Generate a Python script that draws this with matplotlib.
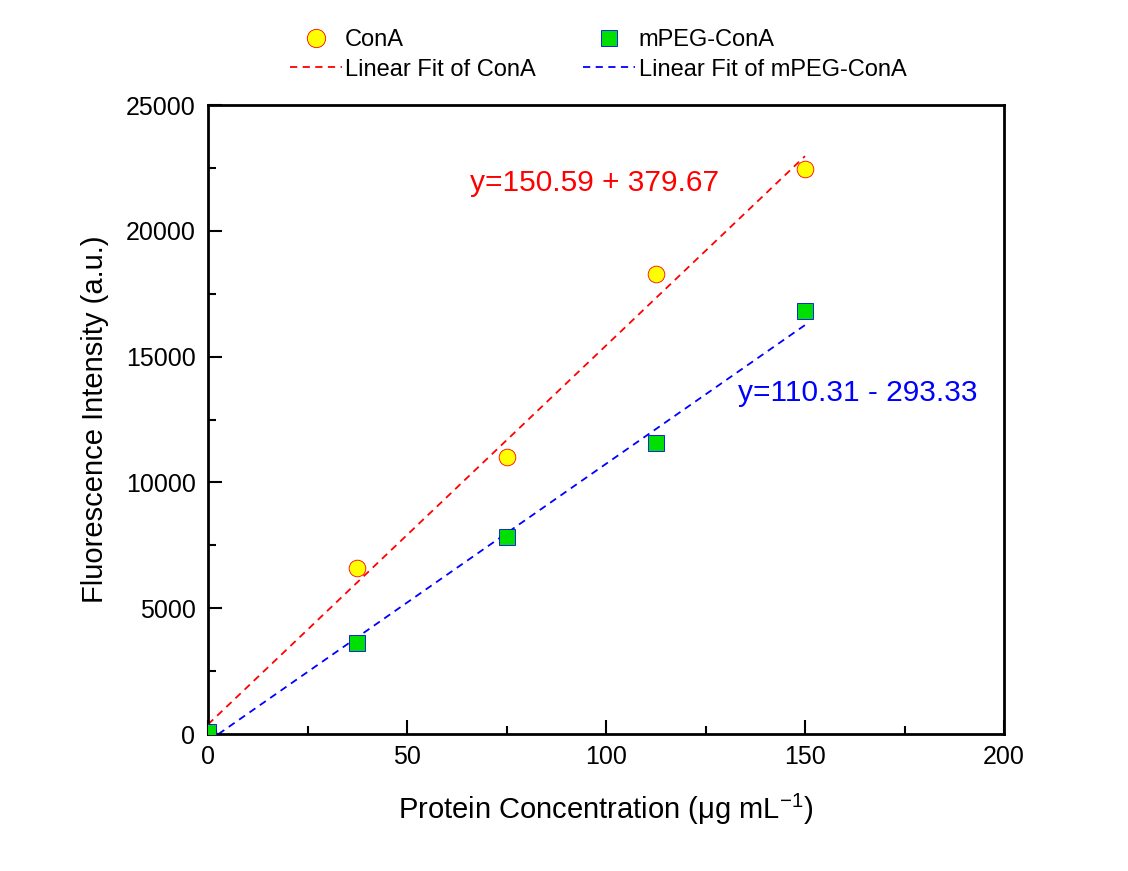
import matplotlib
matplotlib.use("Agg")
import matplotlib.pyplot as plt
import numpy as np
from matplotlib.ticker import MultipleLocator

plt.rcParams['font.family'] = ['Liberation Sans', 'DejaVu Sans']

conc = [0, 37.5, 75, 112.5, 150]
cona = [60, 6600, 11010, 18280, 22450]
mpeg = [60, 3620, 7830, 11570, 16810]
fit_cona = (150.59, 379.67)   # slope, intercept
fit_mpeg = (110.31, -293.33)

fig = plt.figure(figsize=(11.28, 8.71), dpi=100)
ax = fig.add_axes([208/1128, 1-734/871, (1004-208)/1128, (734-105)/871])

xf = np.array([0, 150])
l1, = ax.plot(xf, fit_cona[0]*xf + fit_cona[1], ls=(0, (4, 3)), color='red', lw=1.3, zorder=2)
l2, = ax.plot(xf, fit_mpeg[0]*xf + fit_mpeg[1], ls=(0, (4, 3)), color='blue', lw=1.3, zorder=2)
p1, = ax.plot(conc, cona, 'o', ms=12, mfc='yellow', mec='red', mew=0.6, ls='none', zorder=3)
p2, = ax.plot(conc, mpeg, 's', ms=11, mfc='#00e000', mec='blue', mew=0.6, ls='none', zorder=4)

ax.set_xlim(0, 200)
ax.set_ylim(0, 25000)
ax.xaxis.set_major_locator(MultipleLocator(50))
ax.xaxis.set_minor_locator(MultipleLocator(25))
ax.yaxis.set_major_locator(MultipleLocator(5000))
ax.yaxis.set_minor_locator(MultipleLocator(2500))
ax.tick_params(which='major', direction='in', length=10, width=1.5, labelsize=18)
ax.tick_params(axis='x', which='major', pad=8)
ax.tick_params(axis='y', which='major', pad=9)
ax.tick_params(which='minor', direction='in', length=6, width=1.5)
ax.tick_params(top=False, right=False, which='both')
for s in ax.spines.values():
    s.set_linewidth(2)

ax.set_xlabel('Protein Concentration ($\\mathregular{\\mu}$g mL$^{\\mathregular{-1}}$)', fontsize=21, labelpad=16)
ax.set_ylabel('Fluorescence Intensity (a.u.)', fontsize=21, labelpad=12)

fig.text(470/1128, 1-183/871, 'y=150.59 + 379.67', fontsize=21.5, color='red', va='center')
fig.text(738/1128, 1-393/871, 'y=110.31 - 293.33', fontsize=21.5, color='blue', va='center')

fig.legend([p1, l1, p2, l2],
           ['ConA', 'Linear Fit of ConA', 'mPEG-ConA', 'Linear Fit of mPEG-ConA'],
           ncol=2, loc='center', bbox_to_anchor=(598/1128, 1-55/871), frameon=False,
           fontsize=17, handlelength=2.2, handletextpad=0.15, columnspacing=2.0,
           labelspacing=0.3, markerscale=1.1, borderpad=0)

fig.savefig('out.png', dpi=100)
